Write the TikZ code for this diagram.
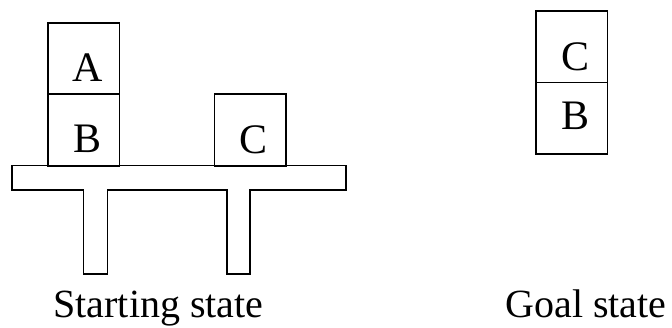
\documentclass[tikz,border=0pt]{standalone}
\usepackage{fontspec}
\setmainfont{Liberation Serif}
\usetikzlibrary{calc}
\tikzset{
  block/.style={draw, line width=1.6pt, minimum width=71.6pt, minimum height=71.5pt, inner sep=0pt},
  letter/.style={anchor=base, inner sep=0pt, font=\fontsize{42}{48}\selectfont},
  caption/.style={anchor=base, inner sep=0pt, font=\fontsize{40}{48}\selectfont},
  outline/.style={draw, line width=1.6pt, line join=miter}
}
\begin{document}
\begin{tikzpicture}[x=1pt, y=-1pt]
\useasboundingbox (0,0) rectangle (672,328);

% table with two legs
\draw[outline] (11.7,165.7) -- (345.7,165.7) -- (345.7,190) -- (250,190) -- (250,274)
  -- (226.7,274) -- (226.7,190) -- (107.3,190) -- (107.3,274) -- (83.3,274)
  -- (83.3,190) -- (11.7,190) -- cycle;

% starting state blocks
\node[block] (blkB) at (83.5,130.0) {};
\node[block] (blkA) at (83.5,58.5) {};
\node[block] (blkC) at (250.2,130.0) {};
\node[letter] (lA) at (88,82) {A};
\node[letter] (lB) at (87.5,153) {B};
\node[letter] (lC) at (253.7,154) {C};

% goal state blocks
\node[block] (gC) at (571.8,46.9) {};
\node[block] (gB) at (571.8,118.4) {};
\node[letter] (glC) at (575.5,70.7) {C};
\node[letter] (glB) at (575.3,129.3) {B};

% captions
\node[caption] (start) at (158.5,318) {Starting state};
\node[caption] (goal) at (586,317.5) {Goal state};
\end{tikzpicture}
\end{document}
